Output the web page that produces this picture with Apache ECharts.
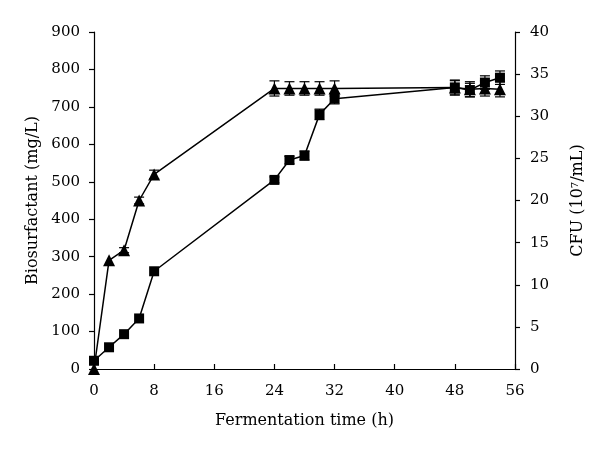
<!DOCTYPE html>
<html>
<head>
<meta charset="utf-8">
<script src="https://cdn.jsdelivr.net/npm/echarts@6/dist/echarts.min.js"></script>
<style>html,body{margin:0;padding:0;background:#fff;}#c{width:600px;height:453px;}</style>
</head>
<body>
<div id="c"></div>
<script>
var times = [0, 2, 4, 6, 8, 24, 26, 28, 30, 32, 48, 50, 52, 54];
var biosurfactant = [22, 58, 93, 135, 261, 505, 558, 570, 680, 722, 752, 745, 765, 778];
var biosurfactantErr = [0, 0, 0, 0, 0, 8, 10, 12, 14, 14, 18, 18, 18, 18];
var cfu = [0, 12.9, 14.1, 20.0, 23.1, 33.3, 33.3, 33.3, 33.3, 33.3, 33.4, 33.2, 33.3, 33.2];
var cfuErr = [0, 0, 0.3, 0.4, 0.5, 0.9, 0.8, 0.8, 0.8, 0.9, 0.9, 0.9, 0.9, 0.9];
var xTicks = [0, 8, 16, 24, 32, 40, 48, 56];

var font = 'DejaVu Serif';
function pairs(v) { return times.map(function (t, i) { return [t, v[i]]; }); }
function errData(v, e) { return times.map(function (t, i) { return [t, v[i] - e[i], v[i] + e[i]]; }); }
function errRender(params, api) {
  var x = api.value(0), lo = api.value(1), hi = api.value(2);
  if (hi === lo) return null;
  var p1 = api.coord([x, lo]), p2 = api.coord([x, hi]);
  var w = 5;
  var st = { stroke: '#000', lineWidth: 1.2 };
  return { type: 'group', children: [
    { type: 'line', shape: { x1: p1[0], y1: p1[1], x2: p2[0], y2: p2[1] }, style: st },
    { type: 'line', shape: { x1: p1[0] - w, y1: p1[1], x2: p1[0] + w, y2: p1[1] }, style: st },
    { type: 'line', shape: { x1: p2[0] - w, y1: p2[1], x2: p2[0] + w, y2: p2[1] }, style: st }
  ]};
}
var chart = echarts.init(document.getElementById('c'));
var axisLine = { show: true, lineStyle: { color: '#000', width: 1.2 } };
chart.setOption({
  animation: false,
  backgroundColor: '#fff',
  grid: { left: 94, right: 85, top: 32, bottom: 84, containLabel: false },
  xAxis: {
    type: 'value', min: 0, max: 56, interval: 8,
    axisLine: axisLine,
    axisTick: { show: true, inside: true, length: 5, lineStyle: { color: '#000', width: 1.2 } },
    axisLabel: { color: '#000', fontFamily: font, fontSize: 15, margin: 15,
      formatter: function (v) { return xTicks.indexOf(v) >= 0 ? String(v) : ''; } },
    splitLine: { show: false },
    name: 'Fermentation time (h)', nameLocation: 'middle', nameGap: 44,
    nameTextStyle: { color: '#000', fontFamily: font, fontSize: 16 }
  },
  yAxis: [{
    type: 'value', min: 0, max: 900, interval: 100,
    axisLine: axisLine,
    axisTick: { show: true, inside: false, length: 5, lineStyle: { color: '#000', width: 1.2 } },
    axisLabel: { color: '#000', fontFamily: font, fontSize: 15, margin: 14 },
    splitLine: { show: false },
    name: 'Biosurfactant (mg/L)', nameLocation: 'middle', nameGap: 52, nameRotate: 90,
    nameTextStyle: { color: '#000', fontFamily: font, fontSize: 16 }
  }, {
    type: 'value', min: 0, max: 40, interval: 5, position: 'right',
    axisLine: axisLine,
    axisTick: { show: true, inside: false, length: 5, lineStyle: { color: '#000', width: 1.2 } },
    axisLabel: { color: '#000', fontFamily: font, fontSize: 15, margin: 15 },
    splitLine: { show: false },
    name: 'CFU (10{sup|7}/mL)', nameLocation: 'middle', nameGap: 55, nameRotate: 90,
    nameTextStyle: { color: '#000', fontFamily: font, fontSize: 16,
      rich: { sup: { fontFamily: font, fontSize: 10, verticalAlign: 'top', lineHeight: 10, padding: [0, 0, 8, 0] } } }
  }],
  series: [
    { type: 'custom', renderItem: errRender, data: errData(biosurfactant, biosurfactantErr), yAxisIndex: 0, z: 1,
      encode: { x: 0, y: [1, 2] } },
    { type: 'line', data: pairs(biosurfactant), yAxisIndex: 0, symbol: 'rect', symbolSize: 10,
      lineStyle: { color: '#000', width: 1.5 }, itemStyle: { color: '#000' }, z: 2 },
    { type: 'custom', renderItem: errRender, data: errData(cfu, cfuErr), yAxisIndex: 1, z: 1,
      encode: { x: 0, y: [1, 2] } },
    { type: 'line', data: pairs(cfu), yAxisIndex: 1, symbol: 'triangle', symbolSize: 12,
      lineStyle: { color: '#000', width: 1.5 }, itemStyle: { color: '#000' }, z: 3 }
  ]
});
</script>
</body>
</html>
